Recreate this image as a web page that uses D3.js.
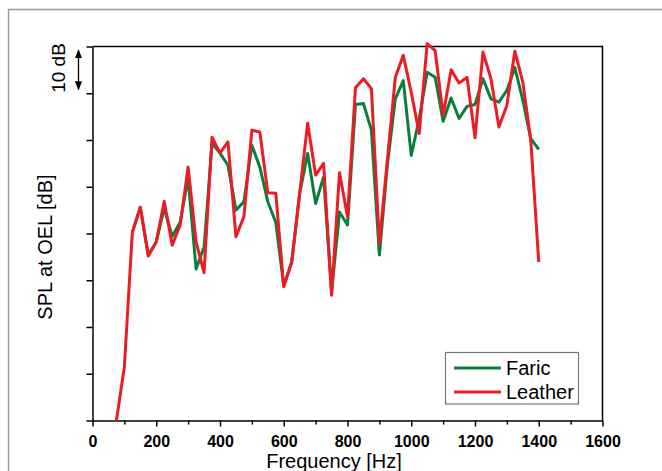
<!DOCTYPE html>
<html>
<head>
<meta charset="utf-8">
<script src="https://cdn.jsdelivr.net/npm/d3@7"></script>
<style>
  body { margin: 0; background: #fff; }
  text { font-family: "Liberation Sans", Arial, sans-serif; }
</style>
</head>
<body>
<div id="canvas"></div>
<script>
const w = 662;
const h = 471;

// frequencies in Hz, levels in dB (relative, 10 dB per tick)
const fabricFreq = [125,150,175,200,225,250,275,300,325,350,375,400,425,450,475,500,525,550,575,600,
  625,650,675,700,725,750,775,800,825,850,875,900,925,950,975,1000,1025,1050,1075,1100,
  1125,1150,1175,1200,1225,1250,1275,1300,1325,1350,1375,1400];
const fabricSpl = [40.3,45.6,35.4,38.2,45.4,39.4,42.4,51.8,32.4,37.1,59.3,57.2,54.6,45.0,46.8,58.9,54.2,46.8,42.4,28.8,
  33.9,48.6,57.1,46.4,52.1,27.5,44.6,41.8,67.6,67.8,62.1,35.4,54.6,68.8,72.7,56.7,64.6,74.5,73.4,64.0,
  69.0,64.6,67.2,67.6,73.1,68.8,68.1,70.6,75.5,68.5,60.3,58.0];

const leatherFreq = [75,100,125,150,175,200,225,250,275,300,325,350,375,400,425,450,475,500,525,550,575,600,
  625,650,675,700,725,750,775,800,825,850,875,900,925,950,975,1000,1025,1050,1075,1100,
  1125,1150,1175,1200,1225,1250,1275,1300,1325,1350,1375,1400];
const leatherSpl = [0,11.5,40.3,45.6,35.2,38.2,46.9,37.5,41.8,54.2,38.2,31.6,60.6,57.2,59.6,39.3,43.6,62.1,61.7,48.7,48.6,28.6,
  33.9,48.6,63.6,52.5,55.0,26.8,53.0,43.6,71.2,73.1,71.0,37.9,55.7,73.4,78.1,70.2,61.4,80.6,79.1,65.3,
  75.0,72.2,73.4,60.5,78.8,73.1,62.8,67.4,79.0,72.4,59.9,33.9];

const xMajor = [0,200,400,600,800,1000,1200,1400,1600];
const xMinor = [100,300,500,700,900,1100,1300,1500];
const yTicks = [0,10,20,30,40,50,60,70,80];

const legendNames = ["Faric", "Leather"];
const green = "#0b7f3a";
const red = "#ec1c24";

let svg = d3.select("#canvas").append("svg").attr("width", w).attr("height", h);

// outer frame (top and left only)
svg.append("path").attr("d", "M8.5," + h + "V9.5H" + w)
  .attr("fill", "none").attr("stroke", "#9a9a9a").attr("stroke-width", 1.5);

let x = d3.scaleLinear().domain([0, 1600]).range([92.5, 602.5]);
let y = d3.scaleLinear().domain([0, 80]).range([420.5, 46.5]);

// x axis
let xAxis = svg.append("g").attr("transform", "translate(0," + y(0) + ")");
xAxis.call(d3.axisBottom(x).tickValues(xMajor).tickSize(6).tickSizeOuter(0).tickFormat(d3.format("d")));
xAxis.select(".domain").attr("stroke-width", 1.5);
xAxis.selectAll(".tick line").attr("stroke-width", 1.5);
xAxis.selectAll(".tick text").attr("font-size", 16).attr("font-weight", "bold")
  .attr("fill", "#000").attr("dy", "0.71em").attr("y", 15);
svg.append("g").attr("transform", "translate(0," + y(0) + ")")
  .call(d3.axisBottom(x).tickValues(xMinor).tickSize(4).tickFormat(""))
  .call((g) => g.select(".domain").remove())
  .selectAll(".tick line").attr("stroke-width", 1.5);

// y axis, ticks only
let yAxis = svg.append("g").attr("transform", "translate(" + x(0) + ",0)");
yAxis.call(d3.axisLeft(y).tickValues(yTicks).tickSize(6).tickSizeOuter(0).tickFormat(""));
yAxis.select(".domain").attr("stroke-width", 1.5);
yAxis.selectAll(".tick line").attr("stroke-width", 1.5);

// top and right borders
svg.append("path")
  .attr("d", "M" + x(0) + "," + y(80) + "H" + x(1600) + "V" + y(0))
  .attr("fill", "none").attr("stroke", "#000").attr("stroke-width", 1.5);

// series
let line = d3.line().x((d) => x(d[0])).y((d) => y(d[1]));
svg.append("path").datum(d3.zip(fabricFreq, fabricSpl)).attr("d", line)
  .attr("fill", "none").attr("stroke", green).attr("stroke-width", 3).attr("stroke-linejoin", "round");
svg.append("path").datum(d3.zip(leatherFreq, leatherSpl)).attr("d", line)
  .attr("fill", "none").attr("stroke", red).attr("stroke-width", 3).attr("stroke-linejoin", "round");

// axis titles
svg.append("text").attr("x", 334).attr("y", 468).attr("text-anchor", "middle")
  .attr("font-size", 20).text("Frequency [Hz]");
svg.append("text").attr("transform", "translate(52,247) rotate(-90)").attr("text-anchor", "middle")
  .attr("font-size", 20).text("SPL at OEL [dB]");

// 10 dB scale marker
svg.append("text").attr("transform", "translate(65,68) rotate(-90)").attr("text-anchor", "middle")
  .attr("font-size", 19).text("10 dB");
let defs = svg.append("defs");
defs.append("marker").attr("id", "arr").attr("viewBox", "0 0 10 10").attr("refX", 9).attr("refY", 5)
  .attr("markerWidth", 7).attr("markerHeight", 7).attr("orient", "auto-start-reverse")
  .append("path").attr("d", "M0,1L10,5L0,9z").attr("fill", "#000");
svg.append("line").attr("x1", 78.5).attr("x2", 78.5).attr("y1", y(79.2)).attr("y2", y(70.8))
  .attr("stroke", "#000").attr("stroke-width", 1.3)
  .attr("marker-start", "url(#arr)").attr("marker-end", "url(#arr)");

// legend
let legend = svg.append("g");
legend.append("rect").attr("x", 445.5).attr("y", 352.5).attr("width", 133).attr("height", 51.5)
  .attr("fill", "#fff").attr("stroke", "#777").attr("stroke-width", 1.2);
[green, red].forEach((c, i) => {
  legend.append("line").attr("x1", 454).attr("x2", 501).attr("y1", 368 + i * 24).attr("y2", 368 + i * 24)
    .attr("stroke", c).attr("stroke-width", 3);
  legend.append("text").attr("x", 506).attr("y", 375 + i * 24).attr("font-size", 20).text(legendNames[i]);
});
</script>
</body>
</html>
